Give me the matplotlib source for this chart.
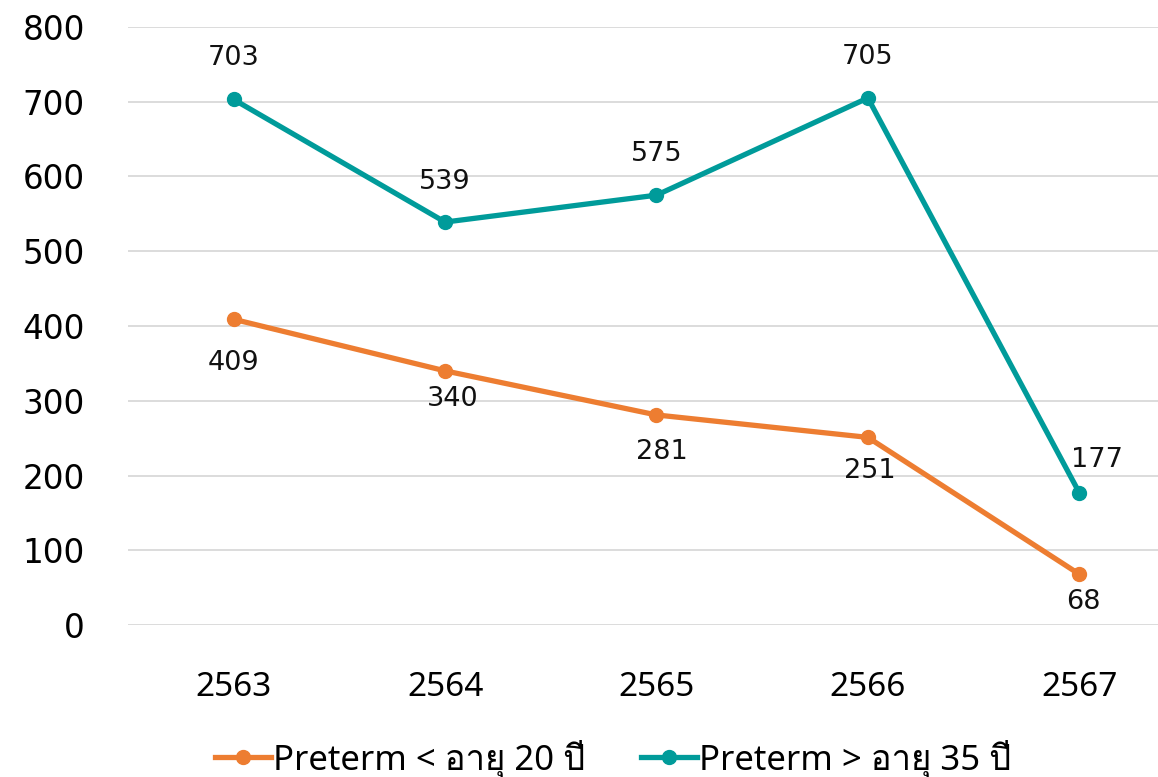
import matplotlib
matplotlib.use("Agg")
import matplotlib.pyplot as plt
from matplotlib import font_manager
from matplotlib.ft2font import FT2Font

years = ["2563", "2564", "2565", "2566", "2567"]
under20 = [409, 340, 281, 251, 68]
over35 = [703, 539, 575, 705, 177]
series_names = ["Preterm < อายุ 20 ปี", "Preterm > อายุ 35 ปี"]
yticks = [0, 100, 200, 300, 400, 500, 600, 700, 800]

# label nudges in pixels (dx, dy) relative to each point
under20_offsets = [(0, -44), (8, -28), (5, -37), (2, -34), (4, -28)]
over35_offsets = [(0, 41), (0, 40), (0, 41), (0, 41), (18, 33)]

ORANGE = "#ED7D31"
TEAL = "#009B9A"
PX = 0.72  # points per pixel at 100 dpi


def thai_family():
    for f in font_manager.fontManager.ttflist:
        try:
            if 0x0E2D in FT2Font(f.fname).get_charmap():
                return f.name
        except Exception:
            continue
    return None


fams = ["Noto Sans", "DejaVu Sans"]
tf = thai_family()
if tf:
    fams = ["Noto Sans", tf, "DejaVu Sans"]
plt.rcParams["font.family"] = fams

fig = plt.figure(figsize=(11.58, 7.77), dpi=100)
ax = fig.add_axes([0.1105, 0.1956, 0.9128, 0.7697])

x = list(range(len(years)))
ax.plot(x, under20, color=ORANGE, lw=3.8, marker="o", ms=10, label=series_names[0], zorder=3)
ax.plot(x, over35, color=TEAL, lw=3.8, marker="o", ms=10, label=series_names[1], zorder=3)

for i, v in enumerate(under20):
    dx, dy = under20_offsets[i]
    ax.annotate(str(v), (i, v), xytext=(dx * PX, dy * PX), textcoords="offset points",
                ha="center", va="center", fontsize=19.5, family="DejaVu Sans", color="#111111")
for i, v in enumerate(over35):
    dx, dy = over35_offsets[i]
    ax.annotate(str(v), (i, v), xytext=(dx * PX, dy * PX), textcoords="offset points",
                ha="center", va="center", fontsize=19.5, family="DejaVu Sans", color="#111111")

ax.set_xlim(-0.5, len(years) - 0.5)
ax.set_ylim(0, 800)
ax.set_yticks(yticks)
ax.set_xticks(x)
ax.set_xticklabels(years)
ax.tick_params(axis="both", length=0)
ax.tick_params(axis="y", pad=31)
ax.tick_params(axis="x", pad=33)
for lab in ax.get_yticklabels():
    lab.set_fontsize(23.5)
    lab.set_family("DejaVu Sans")
for lab in ax.get_xticklabels():
    lab.set_fontsize(24)
    lab.set_fontweight("medium")
ax.grid(axis="y", color="#D9D9D9", lw=1.3)
ax.set_axisbelow(True)
for s in ax.spines.values():
    s.set_visible(False)

fig.legend(loc="center left", bbox_to_anchor=(215 / 1158, 0.023), ncol=2, frameon=False,
           fontsize=25, handlelength=1.6, handletextpad=0.08, columnspacing=1.6,
           borderpad=0, borderaxespad=0)

fig.savefig("out.png", dpi=100)
